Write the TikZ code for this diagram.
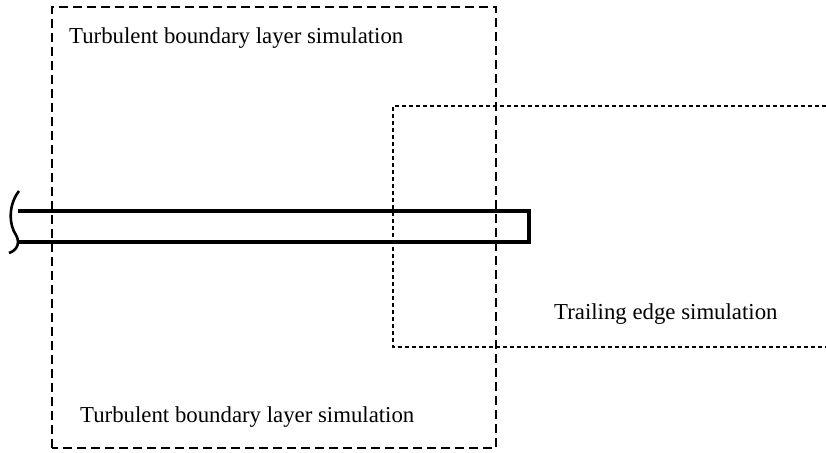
\documentclass[tikz,border=0pt]{standalone}
\usepackage{fontspec}
\setmainfont{Liberation Serif}
\begin{document}
\begin{tikzpicture}[x=1pt,y=-1pt,
  tblbox/.style={line width=1.7pt,dash pattern=on 9pt off 5pt},
  tebox/.style={line width=1.5pt,dash pattern=on 4pt off 3pt},
  plate/.style={line width=3.6pt},
  lbl/.style={font=\fontsize{22.8}{26}\selectfont,inner sep=0pt}]
\useasboundingbox (0,0) rectangle (826,452);
% turbulent boundary layer domain
\draw[tblbox] (52,448) -- (52,7) -- (496,7) -- (496,448) -- cycle;
% trailing edge domain (open to the right)
\draw[tebox] (826,106) -- (393,106) -- (393,347) -- (826,347);
% flat plate with truncated leading part
\draw[plate] (18,211) -- (529,211) -- (529,242) -- (18,242);
\draw[line width=2.6pt] (19,191) .. controls (8,205) and (9,225) .. (16,235)
  .. controls (20,242) and (18,250) .. (9,253);
% labels
\node[lbl,anchor=west] (t1) at (69,38) {Turbulent boundary layer simulation};
\node[lbl,anchor=west] (t2) at (80,417) {Turbulent boundary layer simulation};
\node[lbl,anchor=west] (t3) at (554,314) {Trailing edge simulation};
\end{tikzpicture}
\end{document}
